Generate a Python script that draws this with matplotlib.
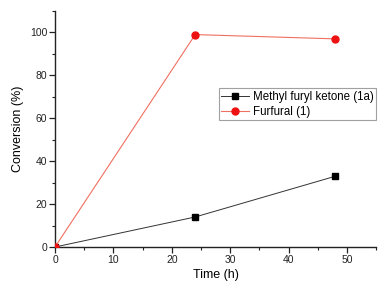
import matplotlib
matplotlib.use("Agg")
import matplotlib.pyplot as plt
from matplotlib.ticker import MultipleLocator

# Datos
tiempo = [0, 24, 48]
conv_mfk = [0, 14, 33]
conv_furfural = [0, 99, 97]
etiqueta_mfk = 'Methyl furyl ketone (1a)'
etiqueta_furfural = 'Furfural (1)'

plt.rcParams['font.family'] = ['Liberation Sans', 'DejaVu Sans']

fig = plt.figure(figsize=(3.86, 2.89), dpi=100)
ax = fig.add_axes([0.1425, 0.1453, 0.8325, 0.8167])

ax.plot(tiempo, conv_mfk, color='#333333', lw=0.7, marker='s', ms=4.5,
        mfc='black', mec='black', label=etiqueta_mfk, zorder=3)
ax.plot(tiempo, conv_furfural, color='#f07060', lw=0.8, marker='o', ms=5,
        mfc='#ee1111', mec='#ee1111', label=etiqueta_furfural, zorder=3)

ax.set_xlim(0, 55)
ax.set_ylim(0, 110)
ax.xaxis.set_minor_locator(MultipleLocator(5))
ax.yaxis.set_minor_locator(MultipleLocator(10))
ax.set_xticks([0, 10, 20, 30, 40, 50])
ax.set_yticks([0, 20, 40, 60, 80, 100])

for s in ['top', 'right']:
    ax.spines[s].set_visible(False)
for s in ['left', 'bottom']:
    ax.spines[s].set_linewidth(1.0)
    ax.spines[s].set_color('#222222')

ax.tick_params(which='major', direction='out', length=4, width=0.9, labelsize=7.5, pad=1.5, colors='#222222')
ax.tick_params(which='minor', direction='out', length=2.5, width=0.8, colors='#222222')

ax.set_xlabel('Time (h)', fontsize=9, labelpad=3)
ax.set_ylabel('Conversion (%)', fontsize=9, labelpad=4)

leg = ax.legend(loc='upper left', bbox_to_anchor=(0.509, 0.672), fontsize=8.3,
                frameon=True, fancybox=False, edgecolor='#888888', borderpad=0.25,
                handlelength=2.4, handletextpad=0.3, labelspacing=0.2, borderaxespad=0)
leg.get_frame().set_linewidth(0.8)

fig.savefig('out.png', dpi=100)
